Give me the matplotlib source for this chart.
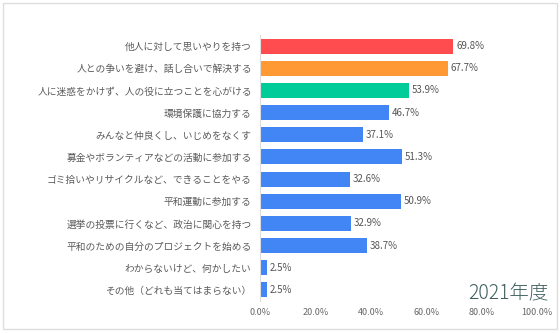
import matplotlib.pyplot as plt
from matplotlib.patches import Rectangle

plt.rcParams['font.family'] = ['Noto Sans CJK JP', 'DejaVu Sans']

labels = ["他人に対して思いやりを持つ",
          "人との争いを避け、話し合いで解決する",
          "人に迷惑をかけず、人の役に立つことを心がける",
          "環境保護に協力する",
          "みんなと仲良くし、いじめをなくす",
          "募金やボランティアなどの活動に参加する",
          "ゴミ拾いやリサイクルなど、できることをやる",
          "平和運動に参加する",
          "選挙の投票に行くなど、政治に関心を持つ",
          "平和のための自分のプロジェクトを始める",
          "わからないけど、何かしたい",
          "その他（どれも当てはまらない）"]
values = [69.8, 67.7, 53.9, 46.7, 37.1, 51.3, 32.6, 50.9, 32.9, 38.7, 2.5, 2.5]
colors = ["#ff4d4f", "#ff9933", "#00cc99"] + ["#4285f4"] * 9
ticks = [0, 20, 40, 60, 80, 100]
year_label = "2021年度"

fig = plt.figure(figsize=(5.6, 3.33), dpi=100)
fig.patches.append(Rectangle((0.005, 0.012), 0.99, 0.98, transform=fig.transFigure,
                             fill=False, edgecolor="#dddddd", linewidth=1))
ax = fig.add_axes([260/560, 1-301/333, 277/560, 266/333])

y = range(len(labels))
ax.barh(y, values, height=0.68, color=colors)
for i, v in enumerate(values):
    ax.text(v + 1, i, f"{v}%", va="center", ha="left", fontsize=7, color="#555555")

ax.set_xlim(0, 100)
ax.set_ylim(len(labels) - 0.5, -0.5)
ax.set_yticks(list(y))
ax.set_yticklabels(labels, fontsize=7, color="#5a5a5a")
ax.set_xticks(ticks)
ax.set_xticklabels([f"{t:.1f}%" for t in ticks], fontsize=6.5, color="#666666")
ax.tick_params(length=0, pad=6)
ax.tick_params(axis="x", pad=5)
for s in ["top", "right", "bottom"]:
    ax.spines[s].set_visible(False)
ax.spines["left"].set_color("#dddddd")

fig.text(549/560, 1-294/333, year_label, ha="right", va="center", fontsize=14,
         color="#3f5f5f", fontweight="light")

fig.savefig("out.png", dpi=100)
